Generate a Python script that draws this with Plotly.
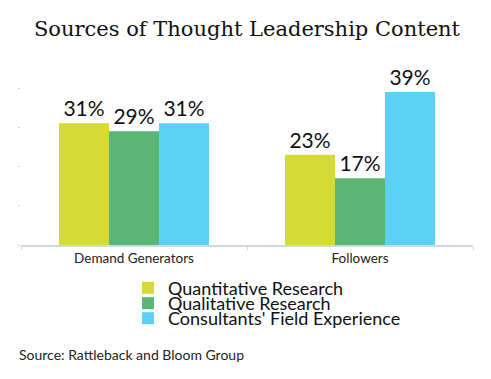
import plotly.graph_objects as go

categories = ["Demand Generators", "Followers"]
series_names = ["Quantitative Research", "Qualitative Research", "Consultants' Field Experience"]
quantitative = [31, 23]
qualitative = [29, 17]
consultants = [31, 39]
colors = ["#D6DA35", "#5BB575", "#5DD0F6"]
title_text = "Sources of Thought Leadership Content"
source_text = "Source: Rattleback and Bloom Group"

# page has an 8px body margin: size the figure to fill the rest of the window
OFF = 8
W, H = 491 - OFF, 379 - OFF
ML, MT = 21 - OFF, 88 - OFF
MR = W - (473 - OFF)
MB = H - (245 - OFF)
PW, PH = W - ML - MR, H - MT - MB
legend_ids = ["legend", "legend2", "legend3"]
legend_rows_page = [288, 303.5, 318.5]

fig = go.Figure()
for name, vals, col, lg in zip(series_names, [quantitative, qualitative, consultants], colors, legend_ids):
    fig.add_trace(go.Bar(
        x=categories, y=vals, name=name, legend=lg,
        marker=dict(color=col, line=dict(width=0)),
        text=[f"{v}%" for v in vals], textposition="outside", cliponaxis=False,
        textfont=dict(family="Lato", size=21, color="#111111"),
    ))

legend_common = dict(xref="container", yref="container", xanchor="left", yanchor="middle",
                     orientation="v", font=dict(family="Lato", size=18, color="#111111"),
                     itemwidth=30, bgcolor="rgba(0,0,0,0)", borderwidth=0)
layout_legends = {}
for lg, ypage in zip(legend_ids, legend_rows_page):
    layout_legends[lg] = dict(x=120 / W, y=1 - (ypage - OFF) / H, **legend_common)

fig.update_layout(
    width=W, height=H,
    margin=dict(l=ML, r=MR, t=MT, b=MB, autoexpand=False),
    paper_bgcolor="white", plot_bgcolor="white",
    barmode="group", bargap=0.336, bargroupgap=0,
    title=dict(text=title_text, x=(247 - OFF) / W, xanchor="center",
               y=1 - (29 - OFF) / H, yanchor="middle",
               font=dict(family="DejaVu Serif", size=21, color="#111111")),
    xaxis=dict(showline=True, linecolor="#C9DCE0", linewidth=1.5,
               ticks="outside", tickson="boundaries", ticklen=3, tickcolor="#C9DCE0",
               tickfont=dict(family="Lato", size=13.5, color="#222222"), showgrid=False),
    yaxis=dict(range=[0, 40], showgrid=False, zeroline=False, showticklabels=False,
               ticks="outside", ticklen=2, tickcolor="#C9DCE0", dtick=10),
    showlegend=True,
    **layout_legends,
)
fig.add_annotation(text=source_text, xref="paper", yref="paper",
                   x=(9 - ML) / PW, y=(H - MB - (354 - OFF)) / PH,
                   xanchor="left", yanchor="middle", showarrow=False,
                   font=dict(family="Lato", size=14, color="#222222"))
fig.write_html("out.html")
